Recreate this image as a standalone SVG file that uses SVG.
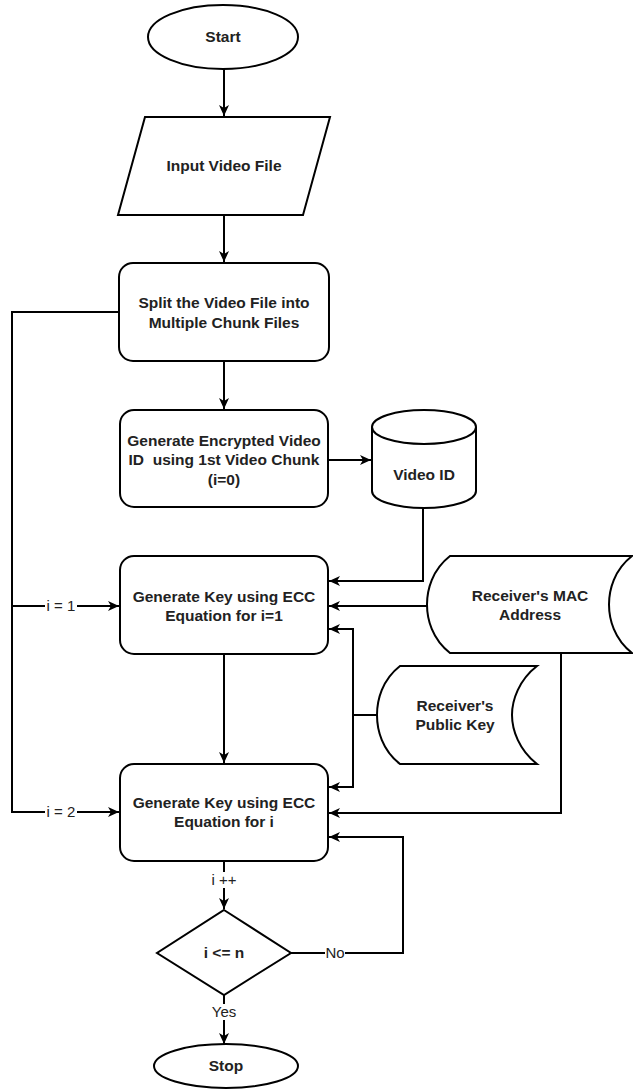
<svg xmlns="http://www.w3.org/2000/svg" width="633" height="1090" viewBox="0 0 633 1090">
<defs>
<marker id="arr" markerUnits="userSpaceOnUse" markerWidth="12" markerHeight="12" viewBox="0 0 12 12" refX="11" refY="6" orient="auto">
<path d="M0,1 L11,6 L0,11 L3,6 Z" fill="#000"/>
</marker>
<style>
.s{fill:#fff;stroke:#000;stroke-width:2}
.c{fill:none;stroke:#000;stroke-width:2}
.t{font-family:"Liberation Sans",Arial,sans-serif;font-size:15.5px;font-weight:bold;fill:#222;text-anchor:middle}
.l{font-family:"Liberation Sans",Arial,sans-serif;font-size:15px;fill:#222;text-anchor:middle}
.bg{fill:#fff}
</style>
</defs>
<rect width="633" height="1090" fill="#fff"/>
<g id="connectors">
<path class="c" d="M224,69 L224,116" marker-end="url(#arr)"/>
<path class="c" d="M224,215 L224,262" marker-end="url(#arr)"/>
<path class="c" d="M224,361 L224,409" marker-end="url(#arr)"/>
<path class="c" d="M328,460 L371,460" marker-end="url(#arr)"/>
<path class="c" d="M423,508 L423,581 L329,581" marker-end="url(#arr)"/>
<path class="c" d="M427,606 L329,606" marker-end="url(#arr)"/>
<path class="c" d="M377,715 L353,715 L353,629 L329,629" marker-end="url(#arr)"/>
<path class="c" d="M353,715 L353,787 L329,787" marker-end="url(#arr)"/>
<path class="c" d="M561,653 L561,813 L329,813" marker-end="url(#arr)"/>
<path class="c" d="M119,312 L12,312 L12,606 L119,606" marker-end="url(#arr)"/>
<path class="c" d="M12,606 L12,812 L119,812" marker-end="url(#arr)"/>
<path class="c" d="M224,654 L224,763" marker-end="url(#arr)"/>
<path class="c" d="M224,861 L224,909" marker-end="url(#arr)"/>
<path class="c" d="M291,953 L403,953 L403,837 L329,837" marker-end="url(#arr)"/>
<path class="c" d="M224,995 L224,1044" marker-end="url(#arr)"/>
<rect class="bg" x="45" y="598" width="32" height="16"/>
<text class="l" x="61" y="611">i = 1</text>
<rect class="bg" x="45" y="804" width="32" height="16"/>
<text class="l" x="61" y="817">i = 2</text>
<rect class="bg" x="211" y="872" width="26" height="16"/>
<text class="l" x="224" y="885">i ++</text>
<rect class="bg" x="209" y="1004" width="30" height="16"/>
<text class="l" x="224" y="1017">Yes</text>
<rect class="bg" x="325" y="945" width="20" height="16"/>
<text class="l" x="335" y="958">No</text>
</g>
<g id="start">
<ellipse class="s" cx="223" cy="37" rx="75" ry="32"/>
<text class="t" x="223" y="42">Start</text>
</g>
<g id="input">
<path class="s" d="M145,117 L330,117 L303,215 L118,215 Z"/>
<text class="t" x="224" y="171">Input Video File</text>
</g>
<g id="split">
<rect class="s" x="119" y="263" width="210" height="98" rx="14"/>
<text class="t" x="224" y="308">Split the Video File into</text>
<text class="t" x="224" y="328">Multiple Chunk Files</text>
</g>
<g id="genid">
<rect class="s" x="120" y="410" width="208" height="97" rx="14"/>
<text class="t" x="224" y="446" xml:space="preserve">Generate Encrypted Video</text>
<text class="t" x="224" y="465" xml:space="preserve">ID  using 1st Video Chunk</text>
<text class="t" x="224" y="485">(i=0)</text>
</g>
<g id="videoid">
<path class="s" d="M372,427 A52,17 0 0 1 476,427 L476,491 A52,17 0 0 1 372,491 Z"/>
<path class="c" d="M372,427 A52,17 0 0 0 476,427"/>
<text class="t" x="424" y="480">Video ID</text>
</g>
<g id="key1">
<rect class="s" x="120" y="556" width="208" height="98" rx="14"/>
<text class="t" x="224" y="602">Generate Key using ECC</text>
<text class="t" x="224" y="621">Equation for i=1</text>
</g>
<g id="mac">
<path class="s" d="M450,556 L632,556 C614,570 609,590 609,604.5 C609,619 614,639 632,653 L450,653 C432,639 427,619 427,604.5 C427,590 432,570 450,556 Z"/>
<text class="t" x="530" y="601">Receiver's MAC</text>
<text class="t" x="530" y="620">Address</text>
</g>
<g id="pubkey">
<path class="s" d="M400,666 L537,666 C519,680 512,700 512,715 C512,730 519,750 537,764 L400,764 C382,750 377,730 377,715 C377,700 382,680 400,666 Z"/>
<text class="t" x="455" y="711">Receiver's</text>
<text class="t" x="455" y="730">Public Key</text>
</g>
<g id="key2">
<rect class="s" x="120" y="764" width="208" height="97" rx="14"/>
<text class="t" x="224" y="808">Generate Key using ECC</text>
<text class="t" x="224" y="827">Equation for i</text>
</g>
<g id="decision">
<path class="s" d="M224,910 L291,953 L224,995 L157,953 Z"/>
<text class="t" x="224" y="958">i &lt;= n</text>
</g>
<g id="stop">
<ellipse class="s" cx="226" cy="1066" rx="72" ry="22"/>
<text class="t" x="226" y="1071">Stop</text>
</g>
</svg>
